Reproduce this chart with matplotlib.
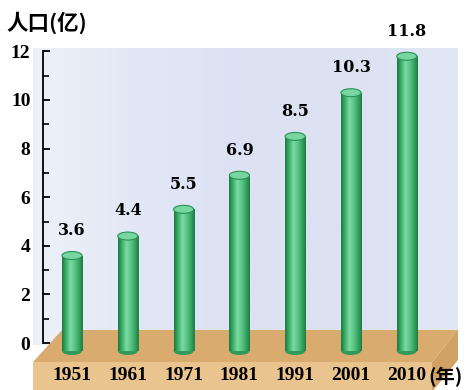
import numpy as np
import matplotlib.pyplot as plt
from matplotlib.patches import Ellipse, Polygon
from matplotlib.colors import LinearSegmentedColormap

years = ["1951", "1961", "1971", "1981", "1991", "2001", "2010"]
population = [3.6, 4.4, 5.5, 6.9, 8.5, 10.3, 11.8]  # 亿
y_ticks = [0, 2, 4, 6, 8, 10, 12]

W, H = 471, 390
SERIF = "Liberation Serif"
CJK = ["Noto Sans CJK SC", "DejaVu Sans"]


def px(x, y):
    # pixel position on the canvas -> data coordinates
    return (x - 72) / 55.8, (343 - y) / 24.3


def main():
    fig = plt.figure(figsize=(W / 100, H / 100), dpi=100)
    ax = fig.add_axes([0, 0, 1, 1])
    ax.set_xlim(px(0, 0)[0], px(W, 0)[0])
    ax.set_ylim(px(0, H)[1], px(0, 0)[1])
    ax.set_facecolor("white")

    # back wall
    wall = LinearSegmentedColormap.from_list(
        "wall", ["#eef1f9", "#e1e7f5", "#dce2f3", "#dce2f2", "#e3e8f5"])
    (wl, wb), (wr, wt) = px(33, 345), px(458, 48)
    ax.imshow(np.linspace(0, 1, 256)[None, :], cmap=wall, aspect="auto",
              extent=(wl, wr, wb, wt), zorder=0, interpolation="bicubic")

    # floor slab
    top = [px(62, 330), px(458, 330), px(432, 362), px(33, 362)]
    front = [px(33, 362), px(432, 362), px(432, 392), px(33, 392)]
    side = [px(432, 362), px(458, 330), px(458, 360), px(432, 392)]
    ax.add_patch(Polygon(top, closed=True, fc="#d9ab6f", ec="none", zorder=1))
    ax.add_patch(Polygon(front, closed=True, fc="#e9c48e", ec="none", zorder=1))
    ax.add_patch(Polygon(side, closed=True, fc="#d2a265", ec="none", zorder=1))

    # cylinders
    xs = np.arange(len(years))
    base = px(0, 351)[1]
    width = 0.36
    eh = 8 / 24.3
    heights = [v - base for v in population]
    bars = ax.bar(xs, heights, bottom=base, width=width, color="#3db36b",
                  zorder=3)
    body = LinearSegmentedColormap.from_list(
        "body", ["#1d7a43", "#3fb26c", "#7bd9a3", "#5ec789", "#3aa865", "#1f7d45"])
    grad = np.linspace(0, 1, 64)[None, :]
    for b, x, v in zip(bars, xs, population):
        ax.add_patch(Ellipse((x, base), width, eh, fc="#2f9a5a", ec="none",
                             zorder=2.9))
        im = ax.imshow(grad, cmap=body, aspect="auto", zorder=3.1,
                       extent=(x - width / 2, x + width / 2, base, v))
        im.set_clip_path(b)
        ax.add_patch(Ellipse((x, v), width, eh, fc="#78d6a0", ec="#2a9155",
                             lw=0.8, zorder=4))
        ax.annotate(f"{v}", (x, v), xytext=(0, 12), textcoords="offset points",
                    ha="center", va="bottom", fontsize=11.5,
                    fontweight="bold", family="DejaVu Serif", zorder=5)

    # axes
    for s in ["top", "right", "bottom"]:
        ax.spines[s].set_visible(False)
    ax.spines["bottom"].set_position(("data", px(0, 367)[1]))
    ax.spines["left"].set_position(("data", px(43, 0)[0]))
    ax.spines["left"].set_bounds(0, 12)
    ax.spines["left"].set_linewidth(1.3)
    ax.spines["left"].set_zorder(6)

    ax.set_yticks(y_ticks)
    ax.set_yticks(np.arange(1, 12, 2), minor=True)
    ax.tick_params(axis="y", which="major", direction="in", length=5,
                   width=1.3, pad=9, labelsize=14)
    ax.tick_params(axis="y", which="minor", direction="in", length=4,
                   width=1.2)
    ax.set_xticks(xs)
    ax.set_xticklabels(years)
    ax.tick_params(axis="x", length=0, pad=0, labelsize=14)
    for lbl in ax.get_yticklabels() + ax.get_xticklabels():
        lbl.set_fontfamily(SERIF)
        lbl.set_fontweight("bold")

    fig.text(428 / W, 1 - 377 / H, "(年)", ha="left", va="center",
             fontsize=14, fontweight="bold", family=CJK)
    fig.text(6 / W, 1 - 23 / H, "人口(亿)", ha="left", va="center",
             fontsize=15.5, fontweight="bold", family=CJK)

    fig.savefig("out.png", dpi=100, facecolor="white")


if __name__ == "__main__":
    main()
